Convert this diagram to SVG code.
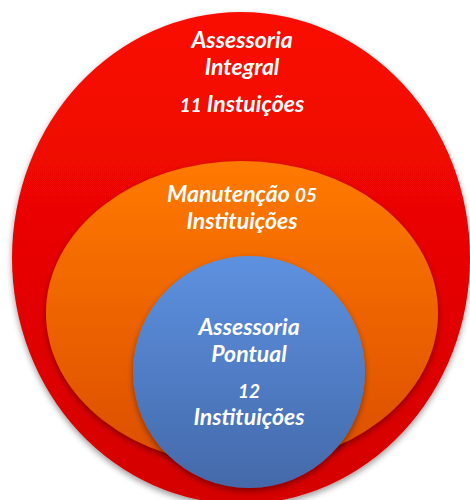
<svg xmlns="http://www.w3.org/2000/svg" width="470" height="500" viewBox="0 0 470 500">
<defs>
<linearGradient id="gRed" x1="0" y1="0" x2="0" y2="1"><stop offset="0" stop-color="#fa0a00"/><stop offset="1" stop-color="#d40000"/></linearGradient>
<linearGradient id="gOrange" x1="0" y1="0" x2="0" y2="1"><stop offset="0" stop-color="#ff7a00"/><stop offset="1" stop-color="#dc4e00"/></linearGradient>
<linearGradient id="gBlue" x1="0" y1="0" x2="0" y2="1"><stop offset="0" stop-color="#5d91e0"/><stop offset="1" stop-color="#4469aa"/></linearGradient>
<filter id="sh" x="-20%" y="-20%" width="140%" height="140%"><feGaussianBlur in="SourceAlpha" stdDeviation="3"/><feOffset dy="3"/><feComponentTransfer><feFuncA type="linear" slope="0.4"/></feComponentTransfer><feMerge><feMergeNode/><feMergeNode in="SourceGraphic"/></feMerge></filter>
</defs>
<style>
text{font-family:"Lato","Open Sans",sans-serif;font-style:italic;font-weight:bold;fill:#ffffff;text-anchor:middle;font-size:23px;}
.n{font-size:19px;}
</style>
<rect width="470" height="500" fill="#ffffff"/>
<g id="integral">
<ellipse cx="241" cy="258" rx="229" ry="246" fill="url(#gRed)" filter="url(#sh)"/>
<text x="242" y="48">Assessoria</text>
<text x="242" y="75">Integral</text>
<text x="242" y="112"><tspan class="n">11</tspan> Instuições</text>
</g>
<g id="manutencao">
<ellipse cx="242" cy="313" rx="196" ry="152" fill="url(#gOrange)" filter="url(#sh)"/>
<text x="242" y="202">Manutenção <tspan class="n">05</tspan></text>
<text x="242" y="229">Instituições</text>
</g>
<g id="pontual">
<ellipse cx="249" cy="372" rx="116" ry="116" fill="url(#gBlue)" filter="url(#sh)"/>
<text x="249" y="335">Assessoria</text>
<text x="249" y="362">Pontual</text>
<text x="249" y="398" class="n">12</text>
<text x="249" y="425">Instituições</text>
</g>
<g id="connectors"/>
</svg>
